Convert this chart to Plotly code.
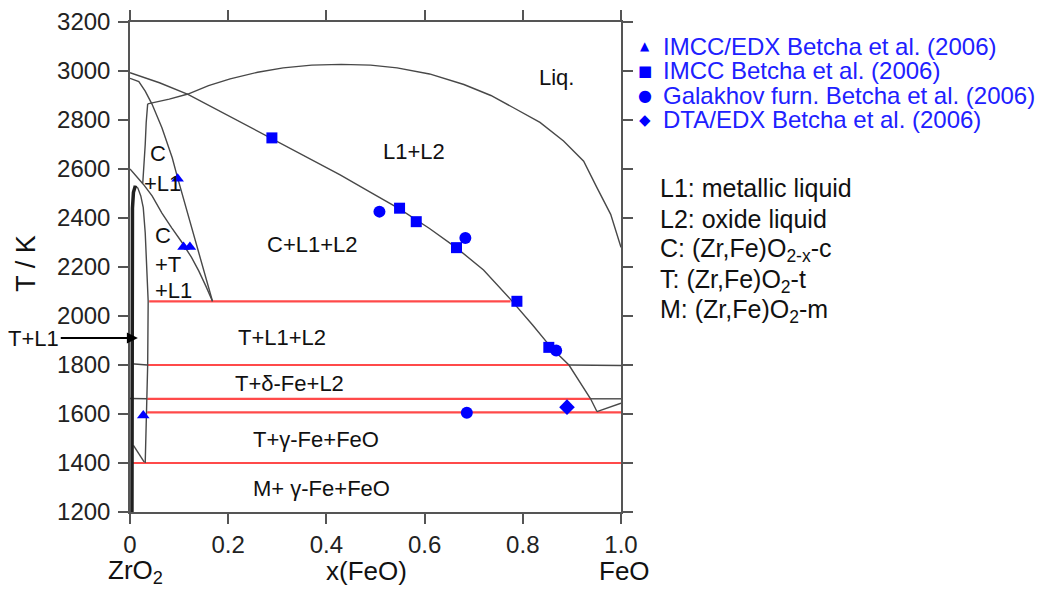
import plotly.graph_objects as go

# ---------------- data ----------------
x_tick_vals = [0, 0.2, 0.4, 0.6, 0.8, 1.0]
x_tick_text = ["0", "0.2", "0.4", "0.6", "0.8", "1.0"]
T_tick_vals = [1200, 1400, 1600, 1800, 2000, 2200, 2400, 2600, 2800, 3000, 3200]
T_MIN, T_MAX = 1200, 3200

# oxide-liquid (L2) liquidus
liq_x = [0, 0.06, 0.118, 0.2, 0.289, 0.36, 0.428, 0.49, 0.548, 0.61, 0.665, 0.72,
         0.775, 0.82, 0.86, 0.894, 0.924, 0.938, 0.951]
liq_T = [2993, 2952, 2905, 2818, 2726, 2651, 2576, 2505, 2438, 2357, 2278, 2188,
         2068, 1963, 1866, 1800, 1709, 1662, 1610]
# FeO-side liquidus
feo_liq_x = [0.951, 1.0]
feo_liq_T = [1610, 1644]
# L1+L2 miscibility dome
dome_x = [0.036, 0.08, 0.118, 0.16, 0.204, 0.26, 0.312, 0.37, 0.43, 0.49, 0.544,
          0.61, 0.68, 0.735, 0.781, 0.835, 0.883, 0.924, 0.951, 0.979, 1.0]
dome_T = [2866, 2885, 2906, 2940, 2968, 2995, 3013, 3024, 3027, 3024, 3013,
          2988, 2945, 2900, 2850, 2790, 2714, 2632, 2524, 2415, 2280]
# C boundary from ZrO2 melting point
curveA_x = [0, 0.018, 0.031, 0.045, 0.065, 0.086, 0.096, 0.117, 0.136, 0.152, 0.168]
curveA_T = [2970, 2957, 2918, 2864, 2768, 2646, 2571, 2420, 2279, 2170, 2060]
# C/T boundary
curveB_x = [0, 0.015, 0.027, 0.045, 0.065, 0.085, 0.106, 0.125, 0.14, 0.155, 0.168]
curveB_T = [2600, 2568, 2538, 2490, 2420, 2360, 2300, 2240, 2184, 2120, 2060]
# C+L1 left boundary
cl1_x = [0.036, 0.033, 0.031, 0.028, 0.026]
cl1_T = [2866, 2790, 2700, 2610, 2543]
# T single-phase spike (thick)
tspike_x = [0.004, 0.004, 0.005, 0.007, 0.011]
tspike_T = [1200, 2300, 2440, 2505, 2532]
# T / T+L1 boundary
tl1_x = [0.011, 0.016, 0.022, 0.027, 0.031, 0.034, 0.036, 0.037, 0.036, 0.034, 0.031]
tl1_T = [2532, 2522, 2490, 2442, 2340, 2198, 2120, 2060, 1800, 1600, 1400]
# small invariant segments (grey)
seg_x = [[0.003, 0.035], [0.0, 0.035], [0.007, 0.031], [0.894, 0.95, 1.0], [0.938, 1.0]]
seg_T = [[1805, 1800], [1663, 1662], [1472, 1397], [1800, 1800, 1798], [1662, 1662]]
# invariant (red) lines
red_T = [2060, 1800, 1662, 1607, 1400]
red_x_start = [0.039, 0.035, 0.035, 0.035, 0.006]
red_x_end = [0.775, 0.894, 0.938, 1.0, 1.0]

# experimental points (Betcha et al. 2006)
tri_x = [0.097, 0.109, 0.122, 0.027]
tri_T = [2560, 2282, 2282, 1594]
sq_x = [0.289, 0.549, 0.583, 0.665, 0.788, 0.853]
sq_T = [2727, 2440, 2385, 2279, 2060, 1872]
circ_x = [0.508, 0.683, 0.868, 0.686]
circ_T = [2426, 2318, 1859, 1605]
dia_x = [0.890]
dia_T = [1628]

legend_names = ["IMCC/EDX Betcha et al. (2006)", "IMCC Betcha et al. (2006)",
                "Galakhov furn. Betcha et al. (2006)", "DTA/EDX Betcha et al. (2006)"]
legend_glyphs = ["\u25B2", "\u25A0", "\u25CF", "\u25C6"]
legend_T = [3101, 3002, 2901, 2802]

phase_notes = ["L1: metallic liquid", "L2: oxide liquid",
               "C: (Zr,Fe)O<sub>2-x</sub>-c", "T: (Zr,Fe)O<sub>2</sub>-t",
               "M: (Zr,Fe)O<sub>2</sub>-m"]
phase_notes_T = [2524, 2396, 2270, 2144, 2022]

# region labels: text, x, T, anchor
region_labels = [
    ("Liq.", 0.868, 2973, "center"),
    ("L1+L2", 0.579, 2673, "center"),
    ("C+L1+L2", 0.371, 2290, "center"),
    ("C", 0.036, 2662, "left"),
    ("+L1", 0.0245, 2542, "left"),
    ("C", 0.047, 2327, "left"),
    ("+T", 0.047, 2212, "left"),
    ("+L1", 0.047, 2106, "left"),
    ("T+L1+L2", 0.309, 1913, "center"),
    ("T+\u03b4-Fe+L2", 0.325, 1723, "center"),
    ("T+\u03b3-Fe+FeO", 0.379, 1495, "center"),
    ("M+ \u03b3-Fe+FeO", 0.389, 1295, "center"),
]

# ---------------- figure ----------------
GREY = "#484848"
RED = "#ff4a4a"
BLUE = "#0000ff"
FONT = "Liberation Sans, Arial, Helvetica, sans-serif"


def paper_y(t):
    return (t - T_MIN) / (T_MAX - T_MIN)


fig = go.Figure()


def add_line(x, y, color=GREY, width=1.4):
    fig.add_trace(go.Scatter(x=x, y=y, mode="lines", line=dict(color=color, width=width),
                             showlegend=False, hoverinfo="skip"))


for xs, ts in zip(seg_x, seg_T):
    add_line(xs, ts)
for t, x0, x1 in zip(red_T, red_x_start, red_x_end):
    add_line([x0, x1], [t, t], RED, 2.2)
add_line(liq_x, liq_T)
add_line(feo_liq_x, feo_liq_T)
add_line(dome_x, dome_T)
add_line(curveA_x, curveA_T)
add_line(curveB_x, curveB_T)
add_line(cl1_x, cl1_T)
add_line(tl1_x, tl1_T)
add_line(tspike_x, tspike_T, "#202020", 3.5)

fig.add_trace(go.Scatter(x=tri_x, y=tri_T, mode="markers", name=legend_names[0],
                         marker=dict(symbol="triangle-up", size=11, color=BLUE), showlegend=False))
fig.add_trace(go.Scatter(x=sq_x, y=sq_T, mode="markers", name=legend_names[1],
                         marker=dict(symbol="square", size=11, color=BLUE), showlegend=False))
fig.add_trace(go.Scatter(x=circ_x, y=circ_T, mode="markers", name=legend_names[2],
                         marker=dict(symbol="circle", size=12, color=BLUE), showlegend=False))
fig.add_trace(go.Scatter(x=dia_x, y=dia_T, mode="markers", name=legend_names[3],
                         marker=dict(symbol="diamond", size=12, color=BLUE), showlegend=False))

ann = []
for text, x, t, anchor in region_labels:
    ann.append(dict(text=text, x=x, y=t, xref="x", yref="y", showarrow=False,
                    xanchor=anchor, yanchor="middle", font=dict(size=22, color="#111", family=FONT)))

# legend (manual, to match row spacing)
glyph_sizes = [12, 15, 16, 15]
for g, gs, name, t in zip(legend_glyphs, glyph_sizes, legend_names, legend_T):
    ann.append(dict(text=g, x=1.048, y=paper_y(t), xref="paper", yref="paper", showarrow=False,
                    xanchor="center", yanchor="middle",
                    font=dict(size=gs, color=BLUE, family="DejaVu Sans")))
    ann.append(dict(text=name, x=1.0805, y=paper_y(t), xref="paper", yref="paper", showarrow=False,
                    xanchor="left", yanchor="middle", font=dict(size=24, color="#2020ff", family=FONT)))

for note, t in zip(phase_notes, phase_notes_T):
    ann.append(dict(text=note, x=1.0744, y=paper_y(t), xref="paper", yref="paper", showarrow=False,
                    xanchor="left", yanchor="middle", font=dict(size=25, color="#111", family=FONT)))

# T+L1 arrow
ann.append(dict(text="T+L1", x=0.016, y=1910, ax=-0.196, ay=1910, xref="x", yref="y",
                axref="x", ayref="y", showarrow=True, arrowhead=2, arrowsize=1.1, arrowwidth=2,
                arrowcolor="#000", standoff=0, font=dict(size=22, color="#111", family=FONT)))

# axis titles
ann.append(dict(text="T / K", x=-0.212, y=paper_y(2217), xref="paper", yref="paper", showarrow=False,
                textangle=-90, xanchor="center", yanchor="middle",
                font=dict(size=27, color="#111", family=FONT)))
for txt, xp in [("ZrO<sub>2</sub>", 0.012), ("x(FeO)", 0.481), ("FeO", 1.007)]:
    ann.append(dict(text=txt, x=xp, y=-0.121, xref="paper", yref="paper", showarrow=False,
                    xanchor="center", yanchor="middle",
                    font=dict(size=26, color="#111", family=FONT)))

axis_common = dict(showgrid=False, zeroline=False, showline=True, linecolor="#555", linewidth=1.5,
                   ticks="outside", ticklen=10, tickwidth=1.5, tickcolor="#555", mirror="ticks",
                   tickfont=dict(size=24, color="#222", family=FONT), automargin=False)

# page body has an 8 px margin, so the figure is 8 px smaller and margins shifted
fig.update_layout(
    width=1047, height=581,
    margin=dict(l=122, r=434, t=14, b=77),
    paper_bgcolor="white", plot_bgcolor="white",
    xaxis=dict(range=[0, 1], tickvals=x_tick_vals, ticktext=x_tick_text, ticklabelstandoff=0,
               **axis_common),
    yaxis=dict(range=[T_MIN, T_MAX], tickvals=T_tick_vals, ticklabelstandoff=3, **axis_common),
    annotations=ann,
    showlegend=False,
    font=dict(family=FONT),
)

fig.write_html("out.html")
